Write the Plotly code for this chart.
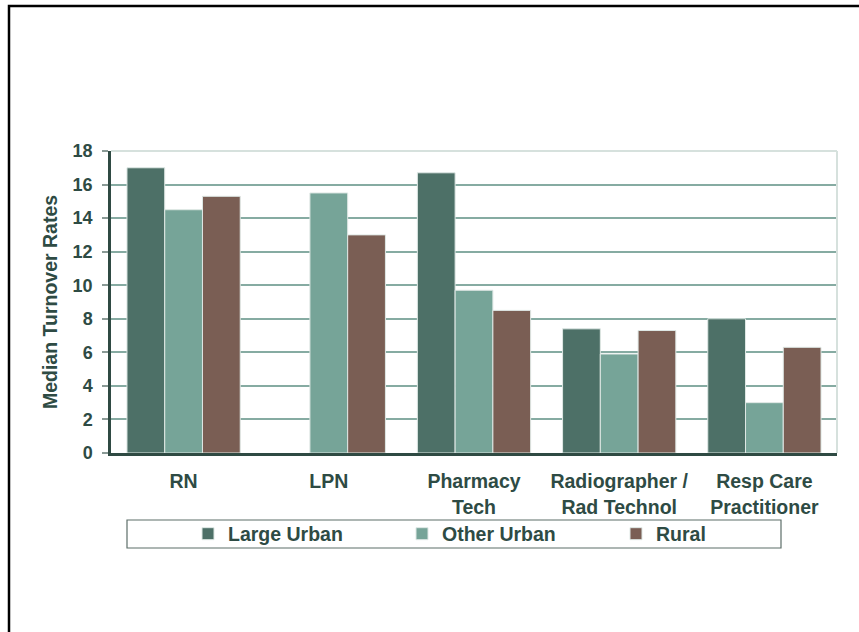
import plotly.graph_objects as go

# Median turnover rates by occupation and location type
categories = ["RN", "LPN", "Pharmacy<br>Tech", "Radiographer /<br>Rad Technol", "Resp Care<br>Practitioner"]
series_names = ["Large Urban", "Other Urban", "Rural"]
large_urban = [17.0, None, 16.7, 7.4, 8.0]
other_urban = [14.5, 15.5, 9.7, 5.9, 3.0]
rural = [15.3, 13.0, 8.5, 7.3, 6.3]
y_ticks = [0, 2, 4, 6, 8, 10, 12, 14, 16, 18]

colors = ["#4d7067", "#76a498", "#7a5e54"]
text_color = "#2e4b44"
font_family = "Liberation Sans, Arial, sans-serif"

W, H = 859, 632
ML, MR, MT, MB = 111, 22, 151, 179
PW, PH = W - ML - MR, H - MT - MB


def px_x(px):
    return (px - ML) / PW


def px_y(py):
    return (H - MB - py) / PH


fig = go.Figure()
for name, vals, col in zip(series_names, [large_urban, other_urban, rural], colors):
    fig.add_trace(go.Bar(
        name=name, x=categories, y=vals,
        marker=dict(color=col, line=dict(color="#dfe8e5", width=1)),
    ))

fig.update_layout(
    width=W, height=H,
    margin=dict(l=ML, r=MR, t=MT, b=MB),
    paper_bgcolor="white", plot_bgcolor="white",
    barmode="group", bargap=0.22, bargroupgap=0,
    font=dict(family=font_family, color=text_color, size=17),
    showlegend=True,
    legend=dict(
        orientation="h", x=px_x(188), xanchor="left",
        y=px_y(534), yanchor="middle",
        entrywidth=169, entrywidthmode="pixels",
        font=dict(size=19.5, color=text_color, family=font_family, weight="bold"),
        bgcolor="rgba(0,0,0,0)", borderwidth=0,
        itemclick=False,
    ),
    xaxis=dict(
        showline=True, linecolor="#2f4a43", linewidth=2.5,
        ticks="", showgrid=False,
        tickfont=dict(size=19.5, color=text_color, weight="bold"),
        ticklabelstandoff=9,
    ),
    yaxis=dict(
        range=[0, 18], tickvals=y_ticks,
        showline=True, linecolor="#2f4a43", linewidth=2.5,
        ticks="outside", ticklen=6, tickcolor="#8a9a96", tickwidth=1.5,
        showgrid=True, gridcolor="#86aba2", gridwidth=1.5,
        zeroline=False,
        tickfont=dict(size=18, color=text_color, weight="bold"),
        ticklabelstandoff=6,
        title=dict(text="Median Turnover Rates", standoff=10,
                   font=dict(size=19.5, color=text_color, weight="bold")),
    ),
    shapes=[
        # light frame around the plotting area
        dict(type="line", xref="paper", yref="paper", x0=0, x1=1, y0=1, y1=1,
             line=dict(color="#d6e1dd", width=2), layer="above"),
        dict(type="line", xref="paper", yref="paper", x0=1, x1=1, y0=0, y1=1,
             line=dict(color="#d6e1dd", width=2), layer="above"),
        # legend box
        dict(type="rect", xref="paper", yref="paper",
             x0=px_x(127), x1=px_x(781), y0=px_y(548), y1=px_y(520),
             line=dict(color="#5d6e69", width=1.2), fillcolor="rgba(0,0,0,0)"),
        # outer black frame
        dict(type="rect", xref="paper", yref="paper",
             x0=px_x(9), x1=px_x(880), y0=px_y(6), y1=px_y(660),
             line=dict(color="black", width=2.5), fillcolor="rgba(0,0,0,0)"),
    ],
)

fig.write_html("out.html")
